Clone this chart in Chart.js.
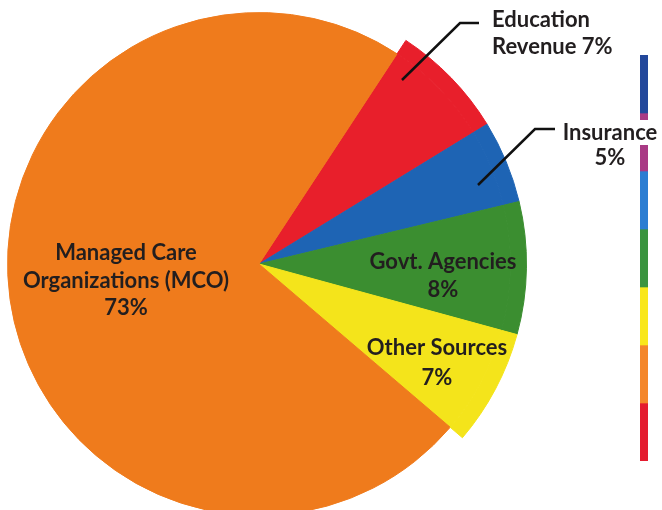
<!DOCTYPE html>
<html>
<head>
<meta charset="utf-8">
<script src="https://cdn.jsdelivr.net/npm/chart.js@4.4.0/dist/chart.umd.min.js"></script>
<style>
  html, body { margin: 0; padding: 0; background: #fff; overflow: hidden; }
  body { width: 662px; height: 510px; position: relative; }
  #barBox { position: absolute; left: 640px; top: 55px; width: 8px; height: 406px; }
  #pieBox { position: absolute; left: -9px; top: -4px; width: 671px; height: 536px; }
</style>
</head>
<body>
<div id="barBox"><canvas id="stripChart"></canvas></div>
<div id="pieBox"><canvas id="pieChart"></canvas></div>
<script>
// slice data, clockwise from the top-right
var sources = ["Education Revenue", "Insurance", "Govt. Agencies", "Other Sources", "Managed Care Organizations (MCO)"];
var shares = [7, 5, 8, 7, 73];
var sliceColors = ["#e81f2b", "#1e64b4", "#3b8e30", "#f4e41b", "#ef7b1c"];

// colour strip on the right, top to bottom
var stripLengths = [1, 1, 1, 1, 1, 1, 1];
var stripColors = ["#23489b", "#a93a85", "#2c7dd2", "#3a943f", "#f9e71b", "#f4872b", "#e41c2f"];

var FONT = "bold 22px Lato, 'Open Sans', sans-serif";
var INK = "#221e1f";

// the small slices stick out past the big one: outer ring shows them only
var outerColors = sliceColors.slice();
outerColors[4] = "rgba(0,0,0,0)";

var labelPlugin = {
  id: 'sliceLabels',
  afterDatasetsDraw: function(chart) {
    var ctx = chart.ctx;
    var arc = chart.getDatasetMeta(0).data[0];
    var cx = arc.x, cy = arc.y;
    ctx.save();
    ctx.font = FONT;
    ctx.textBaseline = 'middle';

    function lines(list, x, y, align, step, clear) {
      ctx.textAlign = align;
      for (var i = 0; i < list.length; i++) {
        if (clear && i === 0) {
          var w = ctx.measureText(list[i]).width;
          ctx.fillStyle = "#fff";
          ctx.fillRect(cx + x - w / 2 - 2, cy + y - 13, w + 4, 25);
        }
        ctx.fillStyle = INK;
        ctx.fillText(list[i], cx + x, cy + y + i * step);
      }
    }
    lines(["Managed Care", "Organizations (MCO)", shares[4] + "%"], -133, -11, 'center', 27.5);
    lines(["Govt. Agencies", shares[2] + "%"], 184, -2, 'center', 28);
    lines(["Other Sources", shares[3] + "%"], 178, 84, 'center', 30);
    lines(["Education", "Revenue " + shares[0] + "%"], 233, -244, 'left', 27);
    lines(["Insurance", shares[1] + "%"], 351, -131, 'center', 25, true);

    // leader lines
    ctx.strokeStyle = "#111";
    ctx.lineWidth = 2.5;
    ctx.beginPath();
    ctx.moveTo(cx + 143, cy - 184);
    ctx.lineTo(cx + 201, cy - 241);
    ctx.lineTo(cx + 220, cy - 241);
    ctx.moveTo(cx + 219, cy - 79);
    ctx.lineTo(cx + 276, cy - 135);
    ctx.lineTo(cx + 296, cy - 135);
    ctx.stroke();
    ctx.restore();
  }
};

new Chart(document.getElementById('pieChart'), {
  type: 'pie',
  data: {
    labels: sources,
    datasets: [{
      data: shares,
      backgroundColor: outerColors,
      borderColor: outerColors,
      borderWidth: 1,
      hoverOffset: 0,
      weight: 16
    }, {
      data: shares,
      backgroundColor: sliceColors,
      borderColor: sliceColors,
      borderWidth: 1,
      hoverOffset: 0,
      weight: 251
    }]
  },
  options: {
    responsive: true,
    maintainAspectRatio: false,
    animation: false,
    rotation: 33.3,
    cutout: 0,
    layout: { padding: { left: 0, top: 0, bottom: 0, right: 135 } },
    plugins: {
      legend: { display: false },
      tooltip: { enabled: false }
    }
  },
  plugins: [labelPlugin]
});

var stripSets = [];
for (var i = 0; i < stripLengths.length; i++) {
  stripSets.push({
    data: [stripLengths[i]],
    backgroundColor: stripColors[i],
    borderWidth: 0,
    barPercentage: 1,
    categoryPercentage: 1,
    stack: 'strip'
  });
}

new Chart(document.getElementById('stripChart'), {
  type: 'bar',
  data: { labels: [''], datasets: stripSets },
  options: {
    responsive: true,
    maintainAspectRatio: false,
    animation: false,
    layout: { padding: 0 },
    scales: {
      x: { stacked: true, display: false },
      y: { stacked: true, display: false, reverse: true, min: 0, max: stripLengths.length }
    },
    plugins: {
      legend: { display: false },
      tooltip: { enabled: false }
    }
  }
});
</script>
</body>
</html>
